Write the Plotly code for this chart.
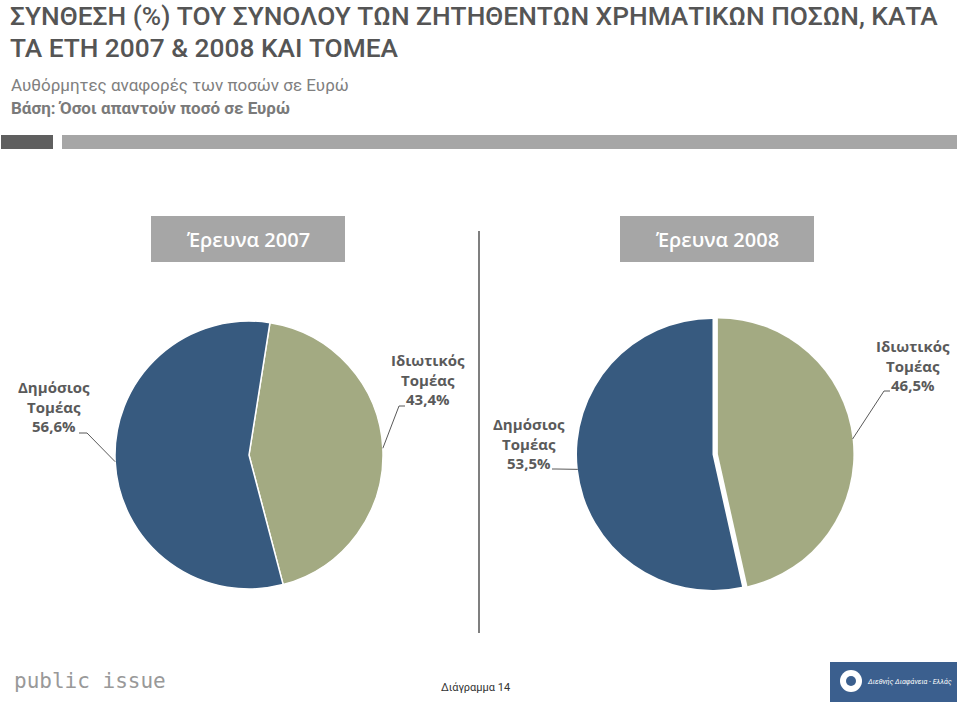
import math
import plotly.graph_objects as go

W, H = 960, 703

# ---------------- data ----------------
sectors = ["Ιδιωτικός Τομέας", "Δημόσιος Τομέας"]
values_2007 = [43.4, 56.6]
values_2008 = [46.5, 53.5]
colors = ["#A3AA82", "#375A7F"]
survey_titles = ["Έρευνα 2007", "Έρευνα 2008"]

title_l1 = "ΣΥΝΘΕΣΗ (%) ΤΟΥ ΣΥΝΟΛΟΥ ΤΩΝ ΖΗΤΗΘΕΝΤΩΝ ΧΡΗΜΑΤΙΚΩΝ ΠΟΣΩΝ, ΚΑΤΑ"
title_l2 = "ΤΑ ΕΤΗ 2007 & 2008 ΚΑΙ ΤΟΜΕΑ"
sub1 = "Αυθόρμητες αναφορές των ποσών σε Ευρώ"
sub2 = "Βάση: Όσοι απαντούν ποσό σε Ευρώ"
footer = "Διάγραμμα 14"


def X(px):
    return px / W


def Y(py):
    return 1 - py / H


def fmt(v):
    return f"{v:.1f}".replace(".", ",") + "%"


fig = go.Figure()

# pie geometry (pixels)
pies = [
    dict(vals=values_2007, rot=9, cx=249, cy=455, r=134, pull=[0, 0], lw=1.5),
    dict(vals=values_2008, rot=0, cx=712.5, cy=454.5, r=135.5, pull=[0.04, 0], lw=0),
]

for p in pies:
    mp = max(p["pull"])
    half = p["r"] * (1 + mp)
    fig.add_trace(go.Pie(
        labels=sectors, values=p["vals"], sort=False, direction="clockwise",
        rotation=p["rot"], pull=p["pull"], textinfo="none", hoverinfo="label+value",
        marker=dict(colors=colors, line=dict(color="white", width=p["lw"])),
        domain=dict(x=[X(p["cx"] - half), X(p["cx"] + half)],
                    y=[Y(p["cy"] + half), Y(p["cy"] - half)]),
        showlegend=False,
    ))

shapes = []
annotations = []

TF = "Roboto, sans-serif"
# title / subtitle
for txt, yy in [(title_l1, 16), (title_l2, 48)]:
    annotations.append(dict(text=txt, x=X(8), y=Y(yy), xref="paper", yref="paper",
                            xanchor="left", yanchor="middle", showarrow=False,
                            font=dict(family=TF, size=26.3, color="#555555", weight=500)))
annotations.append(dict(text=sub1, x=X(9), y=Y(85), xref="paper", yref="paper",
                        xanchor="left", yanchor="middle", showarrow=False,
                        font=dict(family=TF, size=17, color="#808080")))
annotations.append(dict(text="<b>" + sub2 + "</b>", x=X(9), y=Y(108), xref="paper", yref="paper",
                        xanchor="left", yanchor="middle", showarrow=False,
                        font=dict(family=TF, size=17, color="#7a7a7a")))

# gray bars
shapes.append(dict(type="rect", xref="paper", yref="paper", x0=X(1), x1=X(53), y0=Y(149), y1=Y(135),
                   fillcolor="#5f5f5f", line=dict(width=0)))
shapes.append(dict(type="rect", xref="paper", yref="paper", x0=X(62), x1=X(957), y0=Y(149), y1=Y(135),
                   fillcolor="#a6a6a6", line=dict(width=0)))

# survey boxes
for (x0, x1), t in zip([(151, 345), (620, 814)], survey_titles):
    shapes.append(dict(type="rect", xref="paper", yref="paper", x0=X(x0), x1=X(x1), y0=Y(262), y1=Y(216),
                       fillcolor="#a6a6a6", line=dict(width=0)))
    annotations.append(dict(text=t, x=X((x0 + x1) / 2), y=Y(239), xref="paper", yref="paper",
                            xanchor="center", yanchor="middle", showarrow=False,
                            font=dict(family="Open Sans, sans-serif", size=20, color="white", weight=600)))

# separator
shapes.append(dict(type="line", xref="paper", yref="paper", x0=X(479), x1=X(479), y0=Y(231), y1=Y(633),
                   line=dict(color="#7f7f7f", width=2)))


# pie labels with leader lines (tips at slice mid-angles computed from values)
def mid_point(p, idx):
    tot = sum(p["vals"])
    start = p["rot"] + 360 * sum(p["vals"][:idx]) / tot
    mid = start + 180 * p["vals"][idx] / tot
    a = math.radians(mid)
    rr = p["r"] * (1 + p["pull"][idx])
    return p["cx"] + rr * math.sin(a), p["cy"] - rr * math.cos(a)


label_font = dict(family="Open Sans, sans-serif", size=15, color="#5a5a5a")
# (pie, slice index, text centre x, text centre y, line start x, line start y, stub end x)
label_specs = [
    (0, 1, 54, 406, 79, 433, 87),
    (0, 0, 428, 379, 405, 406, 399),
    (1, 1, 529, 443, 552, 469, 556),
    (1, 0, 913, 365, 890, 391, 884),
]
for pi, si, tx, ty, lx, ly, sx in label_specs:
    p = pies[pi]
    name = sectors[si].split(" ")
    txt = "<b>" + name[0] + "<br>" + name[1] + "<br>" + fmt(p["vals"][si]) + "</b>"
    annotations.append(dict(text=txt, x=X(tx), y=Y(ty), xref="paper", yref="paper",
                            xanchor="center", yanchor="middle", showarrow=False,
                            font=label_font, align="center"))
    ex, ey = mid_point(p, si)
    shapes.append(dict(type="path", xref="paper", yref="paper",
                       path=f"M {X(lx)} {Y(ly)} L {X(sx)} {Y(ly)} L {X(ex)} {Y(ey)}",
                       line=dict(color="#595959", width=1)))

# footer
annotations.append(dict(text="public issue", x=X(12), y=Y(681), xref="paper", yref="paper",
                        xanchor="left", yanchor="middle", showarrow=False,
                        font=dict(family="DejaVu Sans Mono, monospace", size=21, color="#999999")))
annotations.append(dict(text=footer, x=X(475), y=Y(687), xref="paper", yref="paper",
                        xanchor="center", yanchor="middle", showarrow=False,
                        font=dict(family=TF, size=11, color="#333333")))
shapes.append(dict(type="rect", xref="paper", yref="paper", x0=X(830), x1=X(957), y0=Y(702), y1=Y(662),
                   fillcolor="#3b5f8e", line=dict(width=0)))
shapes.append(dict(type="circle", xref="paper", yref="paper", x0=X(840), x1=X(862), y0=Y(692), y1=Y(670),
                   fillcolor="white", line=dict(width=0)))
shapes.append(dict(type="circle", xref="paper", yref="paper", x0=X(846), x1=X(856), y0=Y(686), y1=Y(676),
                   fillcolor="#3b5f8e", line=dict(width=0)))
annotations.append(dict(text="<i>Διεθνής Διαφάνεια - Ελλάς</i>", x=X(909), y=Y(681), xref="paper", yref="paper",
                        xanchor="center", yanchor="middle", showarrow=False,
                        font=dict(family=TF, size=7, color="white")))

fig.update_layout(
    width=W, height=H, margin=dict(l=0, r=0, t=0, b=0),
    paper_bgcolor="white", plot_bgcolor="white",
    shapes=shapes, annotations=annotations,
)

fig.write_html("out.html")
